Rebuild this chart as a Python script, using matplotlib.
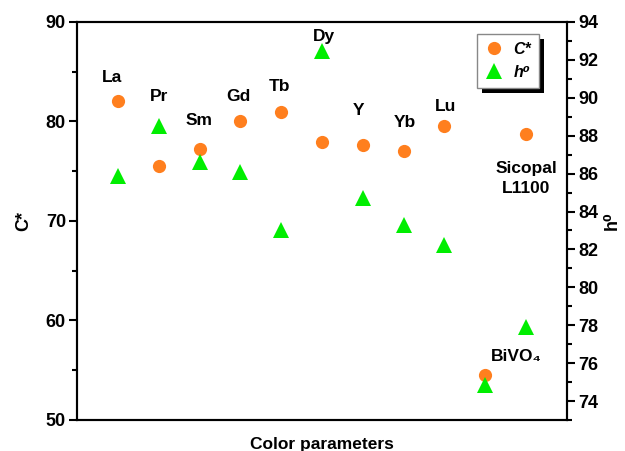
#!/usr/bin/env python3
"""Chroma C* and hue angle h0 for the doped pigments vs. reference samples."""

import matplotlib
matplotlib.use("Agg")
import matplotlib.pyplot as plt
from matplotlib.patches import Rectangle

plt.rcParams["font.family"] = ["Liberation Sans", "DejaVu Sans"]
plt.rcParams["font.weight"] = "bold"

# ------------------------------------------------------------------ data
samples = ["La", "Pr", "Sm", "Gd", "Tb", "Dy", "Y", "Yb", "Lu",
           "BiVO\u2084", "Sicopal\nL1100"]
c_star = [82.1, 75.5, 77.2, 80.1, 81.0, 77.9, 77.6, 77.0, 79.5, 54.5, 78.7]
h_zero = [85.85, 88.5, 86.6, 86.1, 83.0, 92.45, 84.7, 83.3, 82.25, 74.85, 77.9]

ORANGE = "#ff7f1e"
GREEN = "#00ee00"

# ------------------------------------------------------------------ plot
fig = plt.figure(figsize=(6.25, 4.51), dpi=100)
ax = fig.add_axes([77 / 625, 1 - 420 / 451, 490 / 625, 398 / 451])
ax2 = ax.twinx()

x = list(range(len(samples)))
l1, = ax.plot(x, c_star, "o", color=ORANGE, markersize=9.5,
              markeredgewidth=0, label="C*", zorder=3)
l2, = ax2.plot(x, h_zero, "^", color=GREEN, markersize=11,
               markeredgewidth=0, label="h\u2070", zorder=3)

ax.set_xlim(-1, 11)
ax.set_ylim(50, 90)
ax2.set_ylim(73, 94)
ax.set_xticks([])
ax.set_yticks([50, 60, 70, 80, 90])
ax.set_yticks([55, 65, 75, 85], minor=True)
ax2.set_yticks(range(74, 95, 2))
ax2.set_yticks(range(73, 95, 2), minor=True)

for a in (ax, ax2):
    for sp in a.spines.values():
        sp.set_linewidth(1.5)
    a.tick_params(axis="y", which="major", direction="out", length=6,
                  width=1.5, labelsize=13, pad=2)
    a.tick_params(axis="y", which="minor", direction="out", length=3.5,
                  width=1.5)
    for lab in a.get_yticklabels():
        lab.set_fontweight("bold")

ax.set_ylabel("C*", fontsize=13, fontweight="bold", labelpad=10)
ax2.set_ylabel("h\u2070", fontsize=13, fontweight="bold", labelpad=4,
               rotation=90)
ax.set_xlabel("Color parameters", fontsize=12.5, fontweight="bold",
              labelpad=12)

# sample names: (x offset in data units, y in C* units)
label_pos = [(-0.15, 84.4), (0.0, 82.5), (-0.02, 80.1), (-0.05, 82.5),
             (-0.03, 83.5), (0.05, 88.5), (-0.1, 81.1), (0.02, 79.9),
             (0.02, 81.5), (0.75, 56.4), (0.0, 74.3)]
for i, (name, (dx, yv)) in enumerate(zip(samples, label_pos)):
    ax.text(i + dx, yv, name, ha="center", va="center", fontsize=12.5,
            fontweight="bold", linespacing=1.45)

leg = ax2.legend(handles=[l1, l2], loc="upper right",
                 bbox_to_anchor=(0.943, 0.970), borderaxespad=0,
                 fancybox=False, edgecolor="#888888", framealpha=1,
                 prop={"style": "italic", "weight": "bold", "size": 11.5},
                 handletextpad=0.6, handlelength=1.2, borderpad=0.5)
leg.get_frame().set_linewidth(1.0)

# solid black drop shadow behind the legend box (offset ~5 px)
fig.canvas.draw()
bb = leg.get_frame().get_window_extent().transformed(fig.transFigure.inverted())
shadow = Rectangle((bb.x0 + 5 / 625, bb.y0 - 5 / 451), bb.width, bb.height,
                   transform=fig.transFigure, facecolor="black",
                   edgecolor="none", zorder=4.5, clip_on=False)
ax2.add_patch(shadow)

fig.savefig("out.png", dpi=100)
